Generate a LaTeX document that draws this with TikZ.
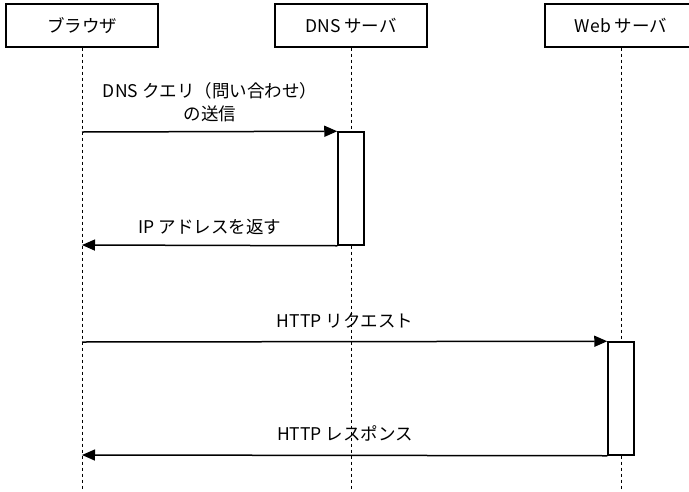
\documentclass[tikz,border=0pt]{standalone}
\usepackage{fontspec}
\setmainfont{Noto Sans CJK JP}
\usetikzlibrary{arrows.meta}
\tikzset{
  actor/.style={draw, line width=1.3pt, fill=white, minimum width=152pt, minimum height=43pt, inner sep=0pt},
  lifeline/.style={line width=1pt, dash pattern=on 3pt off 3pt},
  activation/.style={draw, line width=1.5pt, fill=white, minimum width=26pt, inner sep=0pt},
  msg/.style={line width=1.5pt, -{Triangle[length=13pt,width=11pt]}},
  lbl/.style={inner sep=0pt, align=center, font=\fontsize{17.5}{23}\selectfont},
}
\begin{document}
\begin{tikzpicture}[x=1pt, y=-1pt]
  \useasboundingbox (0,0) rectangle (689,491);
  % participants
  \node[actor, font=\fontsize{17.5}{23}\selectfont] (br)  at (82,25.5)  {ブラウザ};
  \node[actor, font=\fontsize{17.5}{23}\selectfont] (dns) at (351,25.5) {DNS サーバ};
  \node[actor, font=\fontsize{17.5}{23}\selectfont] (web) at (621,25.5) {Web サーバ};
  % lifeline ends
  \coordinate (brend)  at (82,491);
  \coordinate (dnsend) at (351,491);
  \coordinate (webend) at (621,491);
  \draw[lifeline] (br.south)  -- (brend);
  \draw[lifeline] (dns.south) -- (dnsend);
  \draw[lifeline] (web.south) -- (webend);
  % activation bars
  \node[activation, minimum height=113pt] (dnsact) at (351,188.5) {};
  \node[activation, minimum height=113pt] (webact) at (621,398.5) {};
  % message endpoints on the browser lifeline
  \coordinate (q1) at (82,132);
  \coordinate (r1) at (82,245);
  \coordinate (q2) at (82,342);
  \coordinate (r2) at (82,455);
  % messages
  \draw[msg] (q1) -- (dnsact.north west);
  \draw[msg] (dnsact.south west) -- (r1);
  \draw[msg] (q2) -- (webact.north west);
  \draw[msg] (webact.south west) -- (r2);
  % labels
  \node[lbl] (l1) at (210,102) {DNS クエリ（問い合わせ）\\の送信};
  \node[lbl] (l2) at (210,227) {IP アドレスを返す};
  \node[lbl] (l3) at (345,321) {HTTP リクエスト};
  \node[lbl] (l4) at (345,433) {HTTP レスポンス};
\end{tikzpicture}
\end{document}
